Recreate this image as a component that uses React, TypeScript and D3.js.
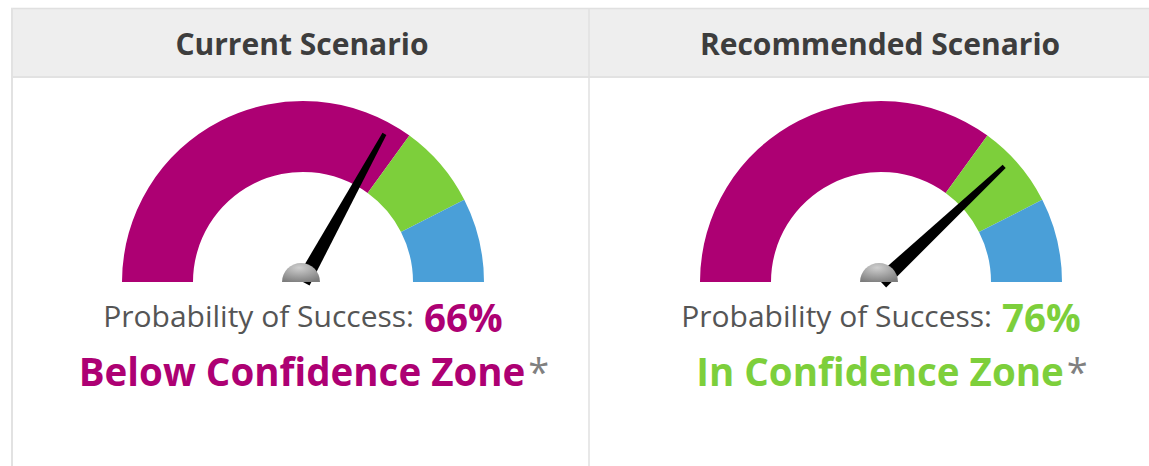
import React from "react";
import * as d3 from "d3";

const scenarioNames = ["Current Scenario", "Recommended Scenario"];
const successProbability = [66, 76];
const zoneBounds = [0, 70, 85, 100];
const zoneNames = ["Below Confidence Zone", "In Confidence Zone", "Above Confidence Zone"];
const zoneColors = ["#ad0073", "#7dcf3b", "#4a9fd8"];
const probabilityLabel = "Probability of Success:";

const W = 1149;
const H = 466;
const tableLeft = 11;
const tableTop = 8;
const headerBottom = 77;
const colWidth = 578;
const gaugeCy = 282;
const outerR = 181;
const innerR = 110;
const needleLen = 169;
const FONT = '"Segoe UI", "Open Sans", sans-serif';

const angle = d3.scaleLinear().domain([0, 100]).range([-Math.PI / 2, Math.PI / 2]);
const arcGen = d3.arc<any>().innerRadius(innerR).outerRadius(outerR);

function needlePath(v: number) {
  const a = angle(v);
  const dx = Math.sin(a), dy = -Math.cos(a);
  const px = -dy, py = dx;
  const wb = 7.5, wt = 2.2;
  const pts: [number, number][] = [
    [px * wb, py * wb],
    [dx * needleLen + px * wt, dy * needleLen + py * wt],
    [dx * needleLen - px * wt, dy * needleLen - py * wt],
    [-px * wb, -py * wb],
  ];
  return (d3.line()(pts) as string) + "Z";
}

export default function App() {
  return (
    <svg width={W} height={H} style={{ position: "absolute", left: 0, top: 0, background: "#fff" }}>
      <defs>
        <radialGradient id="hubGrad" cx="45%" cy="25%" r="80%">
          <stop offset="0%" stopColor="#cfcfcf" />
          <stop offset="100%" stopColor="#7c7c7c" />
        </radialGradient>
        <filter id="soft" x="-20%" y="-20%" width="140%" height="140%">
          <feGaussianBlur stdDeviation="0.7" />
        </filter>
      </defs>
      {/* table */}
      <rect x={tableLeft} y={tableTop} width={W - tableLeft} height={headerBottom - tableTop} fill="#eeeeee" />
      <line x1={tableLeft} x2={W} y1={tableTop + 0.5} y2={tableTop + 0.5} stroke="#e0e0e0" strokeWidth={1.5} />
      <line x1={tableLeft} x2={W} y1={headerBottom} y2={headerBottom} stroke="#e2e2e2" strokeWidth={2} />
      <line x1={tableLeft + 1} x2={tableLeft + 1} y1={tableTop} y2={H} stroke="#e2e2e2" strokeWidth={2} />
      <line x1={tableLeft + colWidth} x2={tableLeft + colWidth} y1={tableTop} y2={H} stroke="#e0e0e0" strokeWidth={1.5} />
      {scenarioNames.map((name, i) => {
        const colCx = tableLeft + i * colWidth + colWidth / 2;
        const cx = colCx + 3;
        const v = successProbability[i];
        const zone = Math.min(d3.bisectRight(zoneBounds, v) - 1, zoneNames.length - 1);
        const zColor = zoneColors[zone];
        return (
          <g key={name}>
            <text x={colCx + 2} y={55} textAnchor="middle" fontFamily={FONT} fontWeight="bold" fontSize={30} fill="#3d3d3d">
              {name}
            </text>
            <g transform={`translate(${cx},${gaugeCy})`}>
              {zoneColors.map((c, k) => (
                <path key={k} d={arcGen({ startAngle: angle(zoneBounds[k]), endAngle: angle(zoneBounds[k + 1]) }) as string} fill={c} />
              ))}
              <path d={needlePath(v)} fill="#000" filter="url(#soft)" />
              <path d={`M${-19},0 A19,19 0 0 1 19,0 Z`} transform="translate(-2,0)" fill="url(#hubGrad)" />
            </g>
            <text x={cx + 111} y={326.5} textAnchor="end" fontFamily={FONT} fontSize={30} fill="#555">
              {probabilityLabel}
            </text>
            <text x={cx + 121} y={332} textAnchor="start" fontFamily={FONT} fontWeight="bold" fontSize={38.5} fill={zColor}>
              {v}%
            </text>
            <text x={cx + 11} y={386} textAnchor="middle" fontFamily={FONT} fontWeight="bold" fontSize={38.5} fill={zColor}>
              {zoneNames[zone]}
              <tspan fill="#808080" fontWeight="normal" fontSize={38} dx={3}>*</tspan>
            </text>
          </g>
        );
      })}
    </svg>
  );
}
